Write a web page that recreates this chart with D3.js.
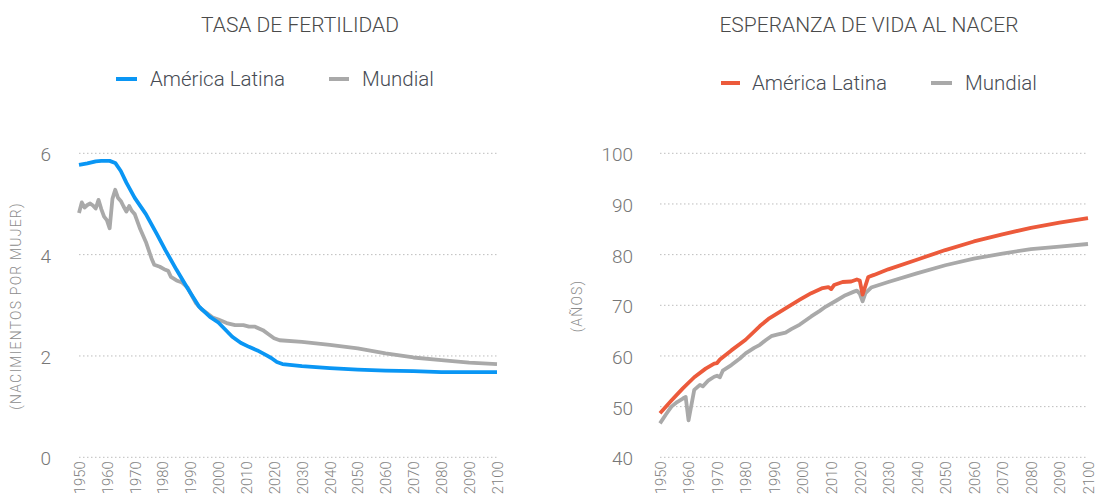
<html lang="es">
<head>
<meta charset="utf-8">
<title>Fertilidad y esperanza de vida</title>
<script src="https://cdnjs.cloudflare.com/ajax/libs/d3/7.8.5/d3.min.js"></script>
<style>
  body { margin: 0; background: white; font-family: Roboto, "Noto Sans", sans-serif; }
  svg { display: block; }
  .title { font-size: 21px; font-weight: 300; fill: #4a4a4a; }
  .legend text { font-size: 20.5px; font-weight: 300; fill: #464b53; }
  .axis text { font-size: 19px; font-weight: 300; fill: #777; font-family: Roboto, sans-serif; }
  .xaxis text { font-size: 14.8px; fill: #7f7f7f; }
  .grid line { stroke: #bdbdbd; stroke-width: 1; stroke-dasharray: 1.5,2.5; }
  .ylabel { font-size: 14px; font-weight: 300; fill: #8c8c8c; letter-spacing: 1.2px; }
  .serie { fill: none; stroke-width: 3.8; stroke-linejoin: round; stroke-linecap: butt; }
</style>
</head>
<body>
<script>
// --- datos ---
var yearTicks = [1950,1960,1970,1980,1990,2000,2010,2020,2030,2040,2050,2060,2070,2080,2090,2100];
var fertTicks = [0, 2, 4, 6];
var vidaTicks = [40, 50, 60, 70, 80, 90, 100];

// tasa de fertilidad, América Latina
var fertLatYears = [1950,1953,1956,1958,1961,1963,1965,1967,1970,1974,1978,1981,1985,1989,1993,1997,2000,2005,2008,2011,2014,2017,2019,2021,2023,2030,2040,2050,2060,2070,2080,2090,2100];
var fertLat      = [5.77,5.80,5.84,5.85,5.85,5.81,5.65,5.42,5.12,4.80,4.40,4.09,3.70,3.33,2.98,2.77,2.66,2.38,2.26,2.18,2.11,2.02,1.96,1.88,1.84,1.80,1.76,1.73,1.71,1.70,1.68,1.68,1.68];

// tasa de fertilidad, mundial
var fertMunYears = [1950,1951,1952,1953,1954,1955,1956,1957,1958,1959,1960,1961,1962,1963,1964,1965,1966,1967,1968,1969,1970,1972,1974,1976,1977,1979,1981,1982,1983,1985,1987,1989,1990,1992,1994,1996,1998,2000,2003,2006,2009,2011,2013,2016,2018,2020,2022,2030,2040,2050,2060,2070,2080,2090,2100];
var fertMun      = [4.82,5.03,4.93,4.98,5.01,4.97,4.91,5.08,4.90,4.75,4.68,4.52,5.10,5.28,5.12,5.06,4.95,4.85,4.96,4.86,4.80,4.50,4.25,3.93,3.80,3.76,3.70,3.68,3.56,3.49,3.45,3.35,3.24,3.04,2.92,2.84,2.76,2.72,2.65,2.61,2.61,2.58,2.58,2.51,2.43,2.35,2.31,2.28,2.22,2.15,2.05,1.97,1.92,1.87,1.84];

// esperanza de vida, América Latina
var vidaLatYears = [1950,1954,1958,1962,1966,1969,1970,1971,1975,1980,1985,1988,1994,1999,2003,2007,2009,2010,2011,2014,2017,2019,2020,2021,2023,2025,2030,2040,2050,2060,2070,2080,2090,2100];
var vidaLat      = [48.7,51.2,53.6,55.8,57.5,58.5,58.6,59.3,61.1,63.2,65.9,67.3,69.4,71.1,72.4,73.4,73.6,73.2,74.0,74.6,74.7,75.1,74.9,72.1,75.6,76.0,77.1,79.0,80.9,82.6,84.0,85.3,86.3,87.2];

// esperanza de vida, mundial
var vidaMunYears = [1950,1952,1954,1956,1958,1959,1960,1962,1964,1965,1967,1969,1970,1971,1972,1975,1978,1980,1983,1985,1987,1989,1991,1994,1996,1999,2003,2006,2008,2012,2015,2018,2019,2020,2021,2022,2024,2030,2040,2050,2060,2070,2080,2090,2100];
var vidaMun      = [46.7,48.4,50.0,50.9,51.6,51.9,47.3,53.3,54.3,54.0,55.2,55.9,56.1,55.8,57.1,58.2,59.5,60.5,61.6,62.2,63.1,63.9,64.2,64.6,65.3,66.2,67.8,68.9,69.7,71.0,72.0,72.7,72.9,72.3,70.8,72.4,73.5,74.6,76.3,77.9,79.2,80.2,81.1,81.6,82.1];

var W = 1098, H = 496;
var svg = d3.select("body").append("svg").attr("width", W).attr("height", H);

function zip(years, vals) {
  return years.map(function(y, i) { return { year: y, v: vals[i] }; });
}

function panel(opt) {
  var x = d3.scaleLinear().domain([1950, 2100]).range([opt.x0, opt.x1]);
  var y = d3.scaleLinear().domain(opt.domain).range([457.3, 153.3]);

  // title
  svg.append("text").attr("class", "title")
    .attr("x", opt.titleX).attr("y", 32)
    .attr("text-anchor", "middle")
    .text(opt.title);

  // legend
  var lg = svg.append("g").attr("class", "legend");
  opt.legend.forEach(function(l) {
    lg.append("line")
      .attr("x1", l.lx).attr("x2", l.lx + l.lw)
      .attr("y1", opt.legendY).attr("y2", opt.legendY)
      .attr("stroke", l.color).attr("stroke-width", 4);
    lg.append("text")
      .attr("x", l.tx).attr("y", opt.legendY)
      .attr("dy", "0.36em")
      .text(l.label);
  });

  // grid
  svg.append("g").attr("class", "grid")
    .selectAll("line").data(opt.ticks).enter().append("line")
    .attr("x1", opt.x0).attr("x2", opt.x1)
    .attr("y1", function(d) { return y(d); })
    .attr("y2", function(d) { return y(d); });

  // y axis
  var ya = svg.append("g").attr("class", "axis")
    .attr("transform", "translate(" + opt.x0 + ",0)")
    .call(d3.axisLeft(y).tickValues(opt.ticks).tickFormat(d3.format("d")).tickSize(0).tickPadding(opt.yPad));
  ya.select(".domain").remove();
  ya.selectAll("text").attr("dy", "0.4em");

  // x axis (rotated year labels)
  var xa = svg.append("g").attr("class", "axis xaxis")
    .attr("transform", "translate(0,457.3)")
    .call(d3.axisBottom(x).tickValues(yearTicks).tickFormat(d3.format("d")).tickSize(0));
  xa.select(".domain").remove();
  xa.selectAll("text")
    .attr("transform", "rotate(-90)")
    .attr("x", -4).attr("y", 0)
    .attr("dy", "0.36em")
    .style("text-anchor", "end");

  // y label
  svg.append("text").attr("class", "ylabel")
    .attr("transform", "translate(" + opt.ylabX + "," + opt.ylabY + ") rotate(-90)")
    .attr("text-anchor", "middle")
    .attr("dy", "0.35em")
    .text(opt.ylabel);

  var line = d3.line()
    .x(function(d) { return x(d.year); })
    .y(function(d) { return y(d.v); });

  opt.series.forEach(function(s) {
    svg.append("path").attr("class", "serie")
      .datum(s.data)
      .attr("stroke", s.color)
      .attr("d", line);
  });
}

var azul = "#0a96f4", naranja = "#ec5a3b", gris = "#a9a9a9";

panel({
  x0: 79, x1: 497, domain: [0, 6], ticks: fertTicks, yPad: 28,
  title: "TASA DE FERTILIDAD", titleX: 300,
  legendY: 79,
  legend: [
    { lx: 116, lw: 21, tx: 150, color: azul, label: "América Latina" },
    { lx: 329, lw: 20, tx: 362, color: gris, label: "Mundial" }
  ],
  ylabel: "(NACIMIENTOS POR MUJER)", ylabX: 16, ylabY: 306,
  series: [
    { data: zip(fertMunYears, fertMun), color: gris },
    { data: zip(fertLatYears, fertLat), color: azul }
  ]
});

panel({
  x0: 660, x1: 1088, domain: [40, 100], ticks: vidaTicks, yPad: 27,
  title: "ESPERANZA DE VIDA AL NACER", titleX: 869,
  legendY: 83,
  legend: [
    { lx: 721, lw: 19, tx: 752, color: naranja, label: "América Latina" },
    { lx: 931, lw: 21, tx: 965, color: gris, label: "Mundial" }
  ],
  ylabel: "(AÑOS)", ylabX: 577, ylabY: 306,
  series: [
    { data: zip(vidaMunYears, vidaMun), color: gris },
    { data: zip(vidaLatYears, vidaLat), color: naranja }
  ]
});
</script>
</body>
</html>
